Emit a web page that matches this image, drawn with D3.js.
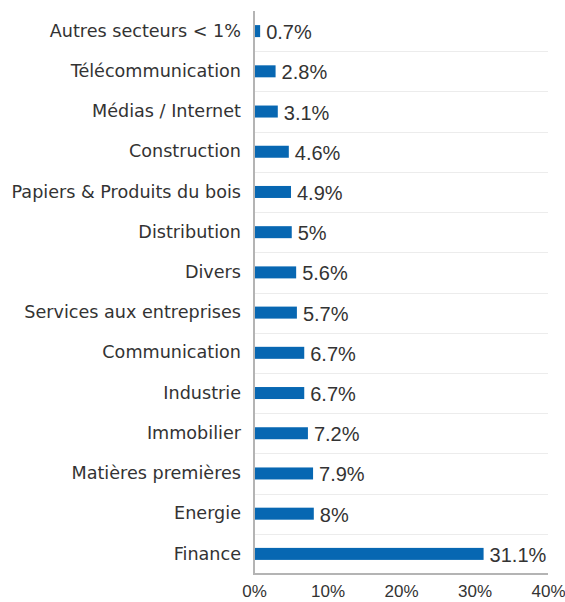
<!DOCTYPE html>
<html>
<head>
<meta charset="utf-8">
<script src="https://cdn.jsdelivr.net/npm/d3@7"></script>
<style>
  html, body { margin: 0; padding: 0; background: #fff; }
  svg { display: block; }
</style>
</head>
<body>
<svg id="chart" width="565" height="602"></svg>
<script>
// Sector breakdown, top to bottom
const sectors = [
  "Autres secteurs < 1%",
  "Télécommunication",
  "Médias / Internet",
  "Construction",
  "Papiers & Produits du bois",
  "Distribution",
  "Divers",
  "Services aux entreprises",
  "Communication",
  "Industrie",
  "Immobilier",
  "Matières premières",
  "Energie",
  "Finance"
];
const weights = [0.7, 2.8, 3.1, 4.6, 4.9, 5, 5.6, 5.7, 6.7, 6.7, 7.2, 7.9, 8, 31.1];
const tickValues = [0, 10, 20, 30, 40];

const svg = d3.select("#chart");
const margin = { top: 11, right: 17, bottom: 28, left: 254 };
const width = 565 - margin.left - margin.right;
const height = 602 - margin.top - margin.bottom;

const x = d3.scaleLinear().domain([0, 40]).range([0, width]);
const row = d3.scaleBand().domain(sectors).range([0, height]);

const g = svg.append("g").attr("transform", `translate(${margin.left},${margin.top})`);

// Row separators
g.append("g")
  .selectAll("line")
  .data(sectors.slice(1))
  .join("line")
  .attr("x1", 0)
  .attr("x2", width)
  .attr("y1", d => Math.round(row(d)) + 0.5)
  .attr("y2", d => Math.round(row(d)) + 0.5)
  .attr("stroke", "#ececec")
  .attr("stroke-width", 1);

// Bars
g.append("g")
  .selectAll("rect")
  .data(sectors)
  .join("rect")
  .attr("x", 1)
  .attr("y", d => row(d) + row.bandwidth() / 2 - 6)
  .attr("width", (d, i) => x(weights[i]))
  .attr("height", 12)
  .attr("fill", "#0767b2");

// Value labels
g.append("g")
  .selectAll("text")
  .data(sectors)
  .join("text")
  .attr("x", (d, i) => x(weights[i]) + 7)
  .attr("y", d => row(d) + row.bandwidth() / 2 + 1)
  .attr("dy", "0.35em")
  .attr("font-family", "'Liberation Sans', Arial, sans-serif")
  .attr("font-size", 20)
  .attr("fill", "#333")
  .text((d, i) => d3.format("")(weights[i]) + "%");

// Category axis
const yAxis = g.append("g")
  .call(d3.axisLeft(row).tickSize(0).tickPadding(13));
yAxis.select(".domain").remove();
yAxis.selectAll("text")
  .attr("font-family", "'DejaVu Sans', sans-serif")
  .attr("font-size", 17.6)
  .attr("fill", "#333");

// Value axis
const xAxis = g.append("g")
  .attr("transform", `translate(0,${height})`)
  .call(d3.axisBottom(x).tickValues(tickValues).tickFormat(d => d + "%").tickSize(0).tickPadding(11));
xAxis.select(".domain").remove();
xAxis.selectAll("text")
  .attr("font-family", "'Liberation Sans', Arial, sans-serif")
  .attr("font-size", 17)
  .attr("fill", "#333");

// Axis lines
g.append("line")
  .attr("x1", 0).attr("x2", width)
  .attr("y1", height).attr("y2", height)
  .attr("stroke", "#b4b4b4").attr("stroke-width", 2);
g.append("line")
  .attr("x1", 0).attr("x2", 0)
  .attr("y1", 0).attr("y2", height + 1)
  .attr("stroke", "#b4b4b4").attr("stroke-width", 2);
</script>
</body>
</html>
